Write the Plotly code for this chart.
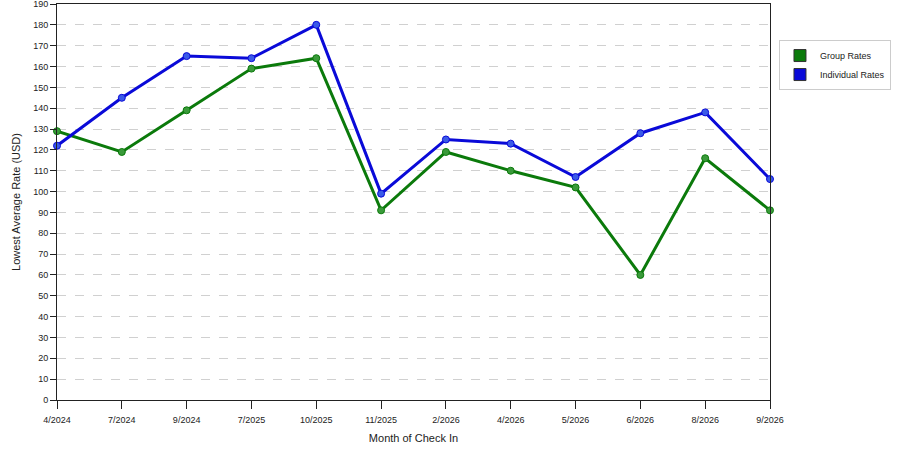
import plotly.graph_objects as go

# months of check in and the two rate series
months = ["4/2024", "7/2024", "9/2024", "7/2025", "10/2025", "11/2025",
          "2/2026", "4/2026", "5/2026", "6/2026", "8/2026", "9/2026"]
group_rates = [129, 119, 139, 159, 164, 91, 119, 110, 102, 60, 116, 91]
individual_rates = [122, 145, 165, 164, 180, 99, 125, 123, 107, 128, 138, 106]
y_ticks = list(range(0, 191, 10))

GREEN = "#0b7a0b"
BLUE = "#0a0ad8"

fig = go.Figure()

fig.add_trace(go.Scatter(
    x=months, y=group_rates, mode="lines+markers", name="Group Rates",
    line=dict(color=GREEN, width=3),
    marker=dict(size=7, color="#3a9a3a", line=dict(color=GREEN, width=1)),
    cliponaxis=False, showlegend=False,
))
fig.add_trace(go.Scatter(
    x=months, y=individual_rates, mode="lines+markers", name="Individual Rates",
    line=dict(color=BLUE, width=3),
    marker=dict(size=7, color="#3a5ae8", line=dict(color=BLUE, width=1)),
    cliponaxis=False, showlegend=False,
))

# legend only: square swatches like the original
for name, col in [("Group Rates", GREEN), ("Individual Rates", BLUE)]:
    fig.add_trace(go.Scatter(
        x=[None], y=[None], mode="markers", name=name,
        marker=dict(symbol="square", size=12, color=col, line=dict(color="#333333", width=1)),
    ))

fig.update_layout(
    width=900, height=450,
    margin=dict(l=57, r=130, t=4, b=50, autoexpand=False),
    paper_bgcolor="white", plot_bgcolor="white",
    font=dict(family="Liberation Sans, Arial", size=9, color="#222222"),
    legend=dict(
        x=1.0126, y=0.909, xanchor="left", yanchor="top",
        bordercolor="#cccccc", borderwidth=1,
        font=dict(size=9), tracegroupgap=2,
    ),
    xaxis=dict(
        type="category", range=[0, len(months) - 1], automargin=False,
        showline=True, linecolor="#222222", linewidth=1, mirror=True,
        ticks="outside", ticklen=8, tickcolor="#222222", ticklabelstandoff=3,
        showgrid=False, zeroline=False,
        title=dict(text="Month of Check In", standoff=10),
    ),
    yaxis=dict(
        range=[0, 190], tickvals=y_ticks, automargin=False,
        ticklabeloverflow="allow",
        showline=True, linecolor="#222222", linewidth=1, mirror=True,
        ticks="outside", ticklen=6, tickcolor="#222222",
        showgrid=True, gridcolor="#d0d0d0", griddash="dash", gridwidth=1,
        zeroline=False,
        title=dict(text="Lowest Average Rate (USD)", standoff=10),
    ),
)

# page has a default 8px body margin; drop it so the chart sits at 0,0
fig.write_html("out.html", config={"displayModeBar": False},
               post_script="document.body.style.margin='0';")
